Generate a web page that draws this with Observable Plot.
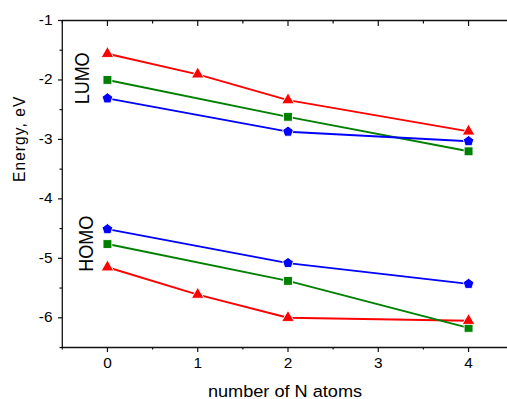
<!DOCTYPE html>
<html><head><meta charset="utf-8">
<script src="https://cdn.jsdelivr.net/npm/d3@7"></script>
<script src="https://cdn.jsdelivr.net/npm/@observablehq/plot@0.6"></script>
<style>html,body{margin:0;padding:0;background:#fff;overflow:hidden}</style>
</head><body><div id="chart"></div>
<script>
// x values (number of N atoms)
const nAtoms = [0, 1, 2, 4];
const nAtomsShort = [0, 2, 4];
// energies, eV
const lumoTriangle = [-1.56, -1.905, -2.34, -2.865];
const homoTriangle = [-5.15, -5.61, -6.0, -6.05];
const lumoSquare = [-2.0, -2.62, -3.2];
const homoSquare = [-4.76, -5.38, -6.17];
const lumoPentagon = [-2.31, -2.87, -3.03];
const homoPentagon = [-4.51, -5.08, -5.43];
const seriesColors = {triangle: "#ff0000", square: "#008000", pentagon: "#0000ff"};
// ticks
const xTicks = [0, 1, 2, 3, 4];
const xMinorTicks = [-0.5, 0.5, 1.5, 2.5, 3.5, 4.5];
const yTicks = [-1, -2, -3, -4, -5, -6];
const yMinorTicks = [-1.5, -2.5, -3.5, -4.5, -5.5, -6.5];
const xLabel = "number of N atoms";
const yLabel = "Energy, eV";
const levelLabels = ["LUMO", "HOMO"];

function rows(xs, ys, shape, level) {
  return xs.map((x, i) => ({n: x, e: ys[i], shape, level}));
}
const data = [
  ...rows(nAtoms, lumoTriangle, "triangle", "LUMO"),
  ...rows(nAtoms, homoTriangle, "triangle", "HOMO"),
  ...rows(nAtomsShort, lumoSquare, "square", "LUMO"),
  ...rows(nAtomsShort, homoSquare, "square", "HOMO"),
  ...rows(nAtomsShort, lumoPentagon, "pentagon", "LUMO"),
  ...rows(nAtomsShort, homoPentagon, "pentagon", "HOMO")
];

const pentagon = {
  draw(context, size) {
    const R = Math.sqrt(size / Math.PI);
    for (let k = 0; k < 5; k++) {
      const a = -Math.PI / 2 + k * 2 * Math.PI / 5;
      const px = R * Math.cos(a), py = R * Math.sin(a);
      if (k === 0) context.moveTo(px, py); else context.lineTo(px, py);
    }
    context.closePath();
  }
};

// label anchors: placed at x = 0, centred on the mean of each level's values there
const labelPos = levelLabels.map(l => {
  const v = data.filter(d => d.level === l && d.n === 0).map(d => d.e);
  return {label: l, n: 0, e: d3.mean(v)};
});

const fmt = d => String(d);
const blank = () => "";
const axisStyle = {label: null, stroke: "#111", strokeWidth: 1.2};

const chart = Plot.plot({
  width: 507,
  height: 399,
  marginLeft: 62,
  marginRight: 0,
  marginTop: 20,
  marginBottom: 52,
  style: {fontFamily: "'Liberation Sans', Arial, sans-serif", fontSize: "14px", color: "#000", background: "#fff"},
  x: {domain: [-0.5, 4.5], range: [61.8, 513.2], label: null},
  y: {domain: [-6.5, -1], label: null},
  color: {type: "identity"},
  marks: [
    Plot.line(data, {x: "n", y: "e", z: d => d.shape + d.level, stroke: d => seriesColors[d.shape], strokeWidth: 1.9}),
    Plot.dot(data.filter(d => d.shape === "square"), {x: "n", y: "e", symbol: "square", r: 5.0, fill: seriesColors.square, stroke: "white", strokeWidth: 0.9}),
    Plot.dot(data.filter(d => d.shape === "pentagon"), {x: "n", y: "e", symbol: pentagon, r: 5.6, fill: seriesColors.pentagon, stroke: "white", strokeWidth: 0.9}),
    Plot.dot(data.filter(d => d.shape === "triangle"), {x: "n", y: "e", symbol: "triangle", r: 4.7, fill: seriesColors.triangle, stroke: "white", strokeWidth: 0.9}),
    Plot.ruleX([-0.5], {stroke: "#111", strokeWidth: 1.3}),
    Plot.ruleY([-1, -6.5], {stroke: "#111", strokeWidth: 1.3}),
    Plot.axisY(yTicks, {...axisStyle, anchor: "left", tickSize: 4, tickPadding: 6, tickFormat: fmt, fontSize: 14}),
    Plot.axisY(yMinorTicks, {...axisStyle, anchor: "left", tickSize: 2.5, tickFormat: blank}),
    Plot.axisX(xTicks, {...axisStyle, anchor: "bottom", tickSize: 5, tickPadding: 6, tickFormat: fmt, fontSize: 14}),
    Plot.axisX(xMinorTicks, {...axisStyle, anchor: "bottom", tickSize: 2.5, tickFormat: blank}),
    Plot.axisX(xTicks, {...axisStyle, anchor: "top", tickSize: -5, tickFormat: blank}),
    Plot.axisX(xMinorTicks, {...axisStyle, anchor: "top", tickSize: -2.5, tickFormat: blank}),
    Plot.text(labelPos.filter(d => d.label === "LUMO"), {x: "n", y: "e", text: "label", rotate: -90, dx: -25, dy: 1, fontSize: 18, fill: "#000"}),
    Plot.text(labelPos.filter(d => d.label === "HOMO"), {x: "n", y: "e", text: "label", rotate: -90, dx: -21, dy: -3, fontSize: 18, fill: "#000"}),
    Plot.text([yLabel], {frameAnchor: "left", dx: -43, dy: -2, rotate: -90, fontSize: 15.5, fill: "#000"}),
    Plot.text([xLabel], {frameAnchor: "bottom", lineAnchor: "bottom", dy: 49, fontSize: 16.5, fill: "#000"})
  ]
});

// slight horizontal stretch of all text, as in the reference rendering
chart.querySelectorAll("text").forEach(t => {
  const tr = t.getAttribute("transform");
  if (tr && tr.includes("translate")) {
    t.setAttribute("transform", tr.replace(/translate\([^)]*\)/, m => m + " scale(1.1,1)"));
  }
});
// letter spacing for y label
chart.querySelectorAll("text").forEach(t => {
  if (t.textContent === yLabel) t.style.letterSpacing = "1.1px";
});

document.getElementById("chart").appendChild(chart);
</script>
</body></html>
